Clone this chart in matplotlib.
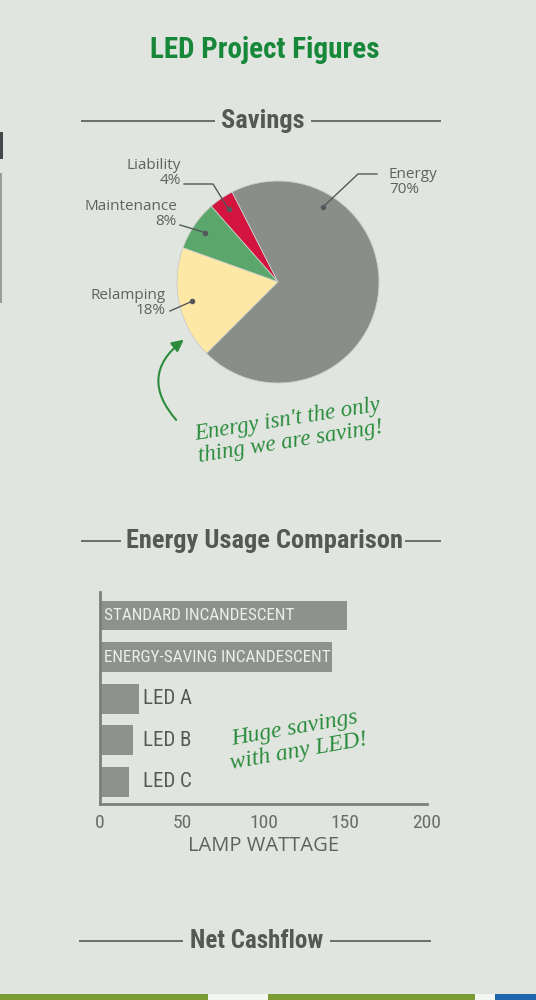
import matplotlib
matplotlib.use('Agg')
import matplotlib.pyplot as plt
from matplotlib import font_manager as fm
from matplotlib.patches import FancyArrowPatch, Rectangle
import numpy as np

# ---------------- data ----------------
pie_labels = ['Liability', 'Maintenance', 'Relamping', 'Energy']
pie_values = [4, 8, 18, 70]
pie_colors = ['#d3143f', '#5ba76b', '#fde8a6', '#8b8d88']

bar_labels = ['STANDARD INCANDESCENT', 'ENERGY-SAVING INCANDESCENT', 'LED A', 'LED B', 'LED C']
bar_values = [151, 142, 24, 20, 18]
x_ticks = [0, 50, 100, 150, 200]

title = 'LED Project Figures'
headers = ['Savings', 'Energy Usage Comparison', 'Net Cashflow']
pie_note = "Energy isn't the only\nthing we are saving!"
bar_note = "Huge savings\nwith any LED!"

# ---------------- fonts ----------------
names = {f.name for f in fm.fontManager.ttflist}
def pick(cands, default='DejaVu Sans'):
    for c in cands:
        if c in names:
            return c
    return default
COND = pick(['Liberation Sans Narrow', 'Roboto Condensed', 'Open Sans Condensed', 'DejaVu Sans'])
SANS = pick(['Open Sans', 'Noto Sans', 'DejaVu Sans'])
HAND = pick(['Liberation Serif', 'DejaVu Serif'])

BG = '#e0e5e0'
GREEN = '#17883a'
HGREEN = '#2b8c3c'
DARK = '#555955'
LABEL = '#5f625e'

W, H = 536, 1000
fig = plt.figure(figsize=(W / 100, H / 100), dpi=100, facecolor=BG)

# overlay axes in pixel coordinates (for decoration/text)
ov = fig.add_axes([0, 0, 1, 1], zorder=5)
ov.set_xlim(0, W)
ov.set_ylim(H, 0)
ov.axis('off')
ov.patch.set_alpha(0)

# title
ov.text(265, 50, title, ha='center', va='center', fontsize=21, fontweight='heavy',
        family=COND, fontstretch='condensed', color=GREEN)

def header(y, text, x0, x1, x2, x3, cx, fs=19):
    ov.plot([x0, x1], [y, y], color='#6a6e6a', lw=1.4)
    ov.plot([x2, x3], [y, y], color='#6a6e6a', lw=1.4)
    ov.text(cx, y, text, ha='center', va='center', fontsize=fs, fontweight='heavy',
            family=COND, fontstretch='condensed', color=DARK)

header(121, headers[0], 82, 214, 312, 440, 263)
header(541, headers[1], 82, 120, 406, 440, 264)
header(941, headers[2], 80, 182, 331, 430, 256.5, fs=18)

# ---------------- pie ----------------
cx, cy, R = 278, 282, 101
axp = fig.add_axes([(cx - R) / W, (H - cy - R) / H, 2 * R / W, 2 * R / H])
wedges, _ = axp.pie(pie_values, colors=pie_colors, startangle=117, counterclock=True,
                    wedgeprops=dict(edgecolor='#c8ccc7', linewidth=0.6))
axp.set_xlim(-1, 1)
axp.set_ylim(-1, 1)
axp.set_aspect('equal')

dot_angle_override = {3: 59}
dots = []
for i, w in enumerate(wedges):
    ang = dot_angle_override.get(i, (w.theta1 + w.theta2) / 2)
    px = cx + 0.87 * R * np.cos(np.radians(ang))
    py = cy - 0.87 * R * np.sin(np.radians(ang))
    dots.append((px, py))
    ov.plot(px, py, 'o', ms=3, color='#55585a')

lc = '#55585a'
fs_lab = 11
# Liability
ov.text(181, 173, f'{pie_labels[0]}\n{pie_values[0]}%', ha='right', va='center',
        multialignment='right', fontsize=fs_lab, family=SANS, color=LABEL, linespacing=1.0)
ov.plot([184, 213, dots[0][0]], [184, 184, dots[0][1]], color=lc, lw=1)
# Maintenance
ov.text(177, 214, f'{pie_labels[1]}\n{pie_values[1]}%', ha='right', va='center',
        multialignment='right', fontsize=fs_lab, family=SANS, color=LABEL, linespacing=1.0)
ov.plot([180, dots[1][0]], [225, dots[1][1]], color=lc, lw=1)
# Relamping
ov.text(166, 303, f'{pie_labels[2]}\n{pie_values[2]}%', ha='right', va='center',
        multialignment='right', fontsize=fs_lab, family=SANS, color=LABEL, linespacing=1.0)
ov.plot([170, dots[2][0]], [311, dots[2][1]], color=lc, lw=1)
# Energy
ov.text(389, 182, f'{pie_labels[3]}\n{pie_values[3]}%', ha='left', va='center',
        multialignment='left', fontsize=fs_lab, family=SANS, color=LABEL, linespacing=1.0)
ov.plot([377, 358, dots[3][0]], [174, 174, dots[3][1]], color=lc, lw=1)

# pie note + arrow
ov.text(289, 431, pie_note, ha='center', va='center', rotation=9, fontsize=16.5,
        family=HAND, style='italic', color=HGREEN, linespacing=1.1)
arr = FancyArrowPatch((178, 422), (186, 338), connectionstyle='arc3,rad=-0.55',
                      arrowstyle='-|>,head_length=7,head_width=3.5', color=HGREEN, lw=1.5,
                      transform=ov.transData)
ov.add_patch(arr)

# ---------------- bars ----------------
axb = fig.add_axes([100 / W, (H - 804) / H, 327 / W, 212 / H])
axb.patch.set_alpha(0)
ypos = np.arange(len(bar_values))
axb.barh(ypos, bar_values, height=0.72, color='#8f918c')
axb.set_xlim(0, 200)
axb.set_ylim(len(bar_values) - 0.47, -0.565)
for s in ['top', 'right']:
    axb.spines[s].set_visible(False)
for s in ['left', 'bottom']:
    axb.spines[s].set_color('#7d7f7b')
    axb.spines[s].set_linewidth(2)
axb.set_yticks([])
axb.set_xticks(x_ticks)
axb.tick_params(axis='x', length=0, pad=7, labelsize=14, labelcolor='#6a6c68')
for lab in axb.get_xticklabels():
    lab.set_family(COND)
axb.set_xlabel('LAMP WATTAGE', fontsize=14.5, color='#5f615d', family=SANS, labelpad=3)

led_x = max(v for v in bar_values if v < 100) + 2.5
for i, (lab, v) in enumerate(zip(bar_labels, bar_values)):
    if v > 100:
        axb.text(2.5, i, lab, ha='left', va='center', fontsize=12.3, family=COND,
                 fontstretch='condensed', color='#eceee9')
    else:
        axb.text(led_x, i, lab, ha='left', va='center', fontsize=15, family=COND,
                 fontstretch='condensed', color='#555855')

ov.text(297, 740, bar_note, ha='center', va='center', rotation=10, fontsize=17,
        family=HAND, style='italic', color=HGREEN, linespacing=1.1)

# ---------------- edge decorations ----------------
ov.add_patch(Rectangle((0, 994), 208, 6, color='#7b9c35', lw=0))
ov.add_patch(Rectangle((208, 994), 60, 6, color='#f4f6f2', lw=0))
ov.add_patch(Rectangle((268, 994), 207, 6, color='#7b9c35', lw=0))
ov.add_patch(Rectangle((475, 994), 20, 6, color='#f4f6f2', lw=0))
ov.add_patch(Rectangle((495, 994), 41, 6, color='#1e66ad', lw=0))
ov.add_patch(Rectangle((0, 132), 2.5, 27, color='#45484a', lw=0))
ov.add_patch(Rectangle((0, 173), 2, 130, color='#9a9d99', lw=0))

fig.savefig('out.png', dpi=100, facecolor=BG)
